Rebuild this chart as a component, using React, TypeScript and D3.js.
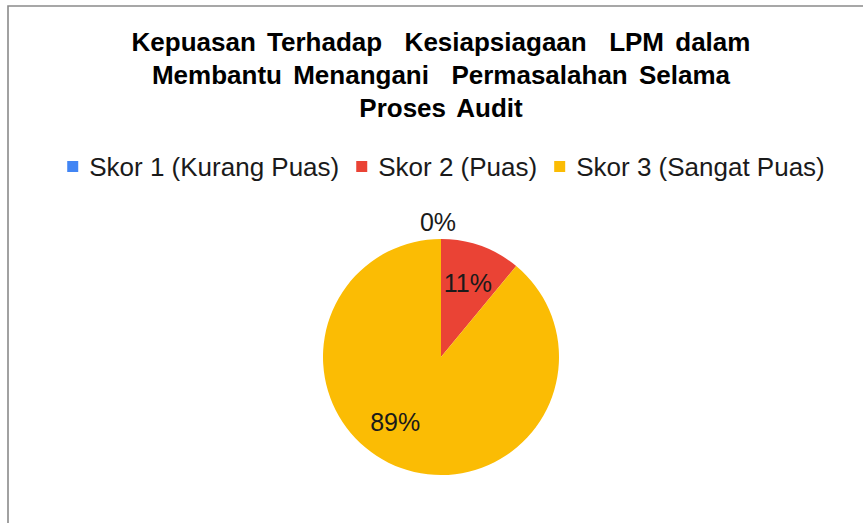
import React, { useEffect, useRef } from "react";
import * as d3 from "d3";

const categories = ["Skor 1 (Kurang Puas)", "Skor 2 (Puas)", "Skor 3 (Sangat Puas)"];
const values = [0, 11, 89];
const colors = ["#4285F4", "#EA4335", "#FBBC04"];
const titleLines = [
  "Kepuasan Terhadap  Kesiapsiagaan  LPM dalam",
  "Membantu Menangani  Permasalahan Selama",
  "Proses Audit",
];

const W = 863;
const H = 523;
const FONT = "'Liberation Sans', Arial, sans-serif";

export default function App() {
  const ref = useRef<SVGSVGElement | null>(null);

  useEffect(() => {
    const svg = d3.select(ref.current);
    svg.selectAll("*").remove();

    svg.append("rect").attr("width", W).attr("height", H).attr("fill", "#fff");

    // frame (top and left edges visible)
    svg
      .append("path")
      .attr("d", `M8,${H} L8,6 L${W},6`)
      .attr("fill", "none")
      .attr("stroke", "#8a8a8a")
      .attr("stroke-width", 1.6);

    // title
    const title = svg
      .append("text")
      .attr("font-family", FONT)
      .attr("font-weight", "bold")
      .attr("font-size", 26)
      .attr("fill", "#000")
      .attr("text-anchor", "middle")
      .style("white-space", "pre")
      .style("word-spacing", "4px");
    titleLines.forEach((t, i) => {
      title
        .append("tspan")
        .attr("x", 441)
        .attr("y", 51 + i * 33)
        .text(t);
    });

    // legend
    const lg = svg.append("g");
    const items = lg
      .selectAll("g")
      .data(categories)
      .join("g");
    items
      .append("rect")
      .attr("width", 11)
      .attr("height", 11)
      .attr("fill", (_d, i) => colors[i]);
    items
      .append("text")
      .attr("font-family", FONT)
      .attr("font-size", 26)
      .attr("fill", "#1a1a1a")
      .attr("x", 22)
      .attr("y", 15)
      .text((d) => d);
    let x = 0;
    const gap = 17;
    items.each(function () {
      const g = d3.select(this);
      const tw = (g.select("text").node() as SVGTextElement).getComputedTextLength();
      g.attr("transform", `translate(${x},0)`);
      x += 22 + tw + gap;
    });
    const total = x - gap;
    lg.attr("transform", `translate(${446 - total / 2},161)`);

    // pie
    const cx = 441;
    const cy = 357;
    const r = 118;
    const pie = d3.pie<number>().sort(null).value((d) => d);
    const arcs = pie(values);
    const arc = d3.arc<d3.PieArcDatum<number>>().innerRadius(0).outerRadius(r);
    const g = svg.append("g").attr("transform", `translate(${cx},${cy})`);
    g.selectAll("path")
      .data(arcs)
      .join("path")
      .attr("d", arc as any)
      .attr("fill", (_d, i) => colors[i]);

    const inner = d3.arc<d3.PieArcDatum<number>>().innerRadius(r * 0.67).outerRadius(r * 0.67);
    const outer = d3.arc<d3.PieArcDatum<number>>().innerRadius(r + 17).outerRadius(r + 17);
    const nudge = [
      [-3, 0],
      [0, 0],
      [-19, -9],
    ];
    g.selectAll("text.lbl")
      .data(arcs)
      .join("text")
      .attr("class", "lbl")
      .attr("font-family", FONT)
      .attr("font-size", 25)
      .attr("fill", "#1a1a1a")
      .attr("text-anchor", "middle")
      .attr("dominant-baseline", "central")
      .attr("transform", (d, i) => {
        const c = d.value === 0 ? outer.centroid(d) : inner.centroid(d);
        return `translate(${c[0] + nudge[i][0]},${c[1] + nudge[i][1]})`;
      })
      .text((d) => `${Math.round(d.value)}%`);
  }, []);

  return (
    <svg
      ref={ref}
      width={W}
      height={H}
      style={{ position: "absolute", left: 0, top: 0, display: "block" }}
    />
  );
}
